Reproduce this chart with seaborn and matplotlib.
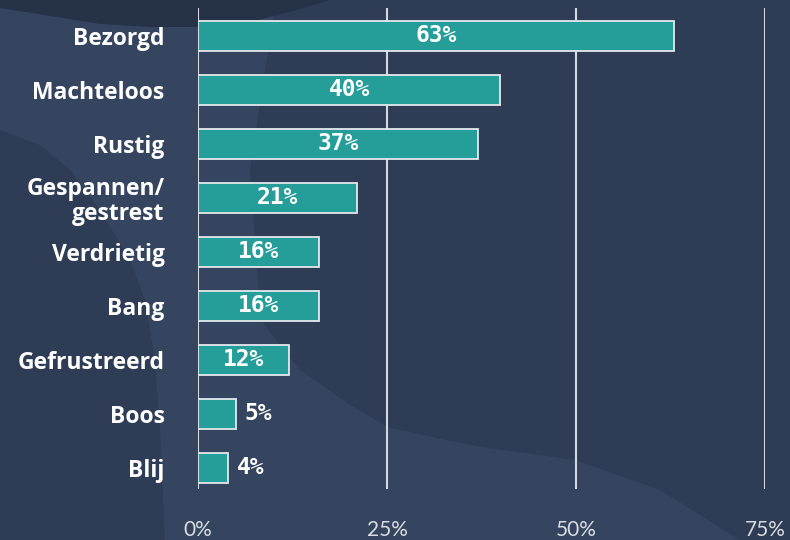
import matplotlib
matplotlib.use("Agg")
import matplotlib.pyplot as plt
import seaborn as sns
import pandas as pd
from matplotlib.patches import Polygon

categories = ["Bezorgd", "Machteloos", "Rustig", "Gespannen/\ngestrest", "Verdrietig",
              "Bang", "Gefrustreerd", "Boos", "Blij"]
values = [63, 40, 37, 21, 16, 16, 12, 5, 4]
x_ticks = [0, 25, 50, 75]
x_tick_labels = ["0%", "25%", "50%", "75%"]

BASE = "#2e3d55"
LIGHT = "#36455f"
DARK = "#263248"
TEAL = "#259e9a"
EDGE = "#e4e8ee"
GRID = "#d3d7de"

sns.set_theme(style="white")
plt.rcParams['font.family'] = ['Open Sans', 'DejaVu Sans']

W, H = 790, 540
fig = plt.figure(figsize=(7.9, 5.4), dpi=100, facecolor=BASE)


def px(pts):
    return [(x / W, 1 - y / H) for x, y in pts]


light_shape = [(0, 0), (290, 0), (275, 10), (265, 70), (250, 170), (257, 270), (262, 320),
               (272, 335), (300, 370), (350, 405), (390, 428), (480, 447), (575, 460),
               (660, 490), (740, 540), (165, 540), (160, 430), (155, 360), (145, 300),
               (130, 260), (100, 210), (70, 170), (40, 145), (0, 130)]
dark_top = [(0, 0), (0, 8), (50, 16), (100, 24), (150, 27), (200, 27), (250, 22),
            (290, 12), (330, 0)]
fig.patches.append(Polygon(px(light_shape), closed=True, transform=fig.transFigure,
                           facecolor=LIGHT, edgecolor="none", zorder=-5))
fig.patches.append(Polygon(px(dark_top), closed=True, transform=fig.transFigure,
                           facecolor=DARK, edgecolor="none", zorder=-4))

ax = fig.add_axes([198 / W, 1 - 489 / H, (765 - 198) / W, (489 - 8) / H])
ax.set_facecolor("none")

df = pd.DataFrame({"cat": categories, "val": values})
sns.barplot(data=df, x="val", y="cat", orient="h", color=TEAL, saturation=1,
            edgecolor=EDGE, linewidth=1.3, width=0.54, ax=ax)

ax.set_xlim(0, 75)
ax.set_ylim(8.389, -0.5185)
ax.set_xticks(x_ticks)
ax.set_xticklabels(x_tick_labels, color="#d9dde3", fontsize=15, family=["Lato", "DejaVu Sans"])
ax.set_yticks(range(len(categories)))
ax.set_yticklabels(categories, fontsize=16.5, fontweight="bold", color="white",
                   family=["Open Sans", "DejaVu Sans"], linespacing=1.05)
ax.xaxis.grid(True, color=GRID, linewidth=1.5)
ax.yaxis.grid(False)
ax.set_axisbelow(True)
ax.tick_params(axis="x", length=0, pad=22)
ax.tick_params(axis="y", length=0, pad=24)
for s in ax.spines.values():
    s.set_visible(False)
ax.set_xlabel("")
ax.set_ylabel("")

for i, v in enumerate(values):
    if v >= 10:
        ax.text(v / 2, i, f"{v}%", ha="center", va="center", color="white",
                family="DejaVu Sans Mono", fontweight="bold", fontsize=16.5)
    else:
        ax.annotate(f"{v}%", xy=(v, i), xytext=(6, 0), textcoords="offset points",
                    ha="left", va="center", color="white",
                    family="DejaVu Sans Mono", fontweight="bold", fontsize=16.5)

fig.savefig("out.png", dpi=100, facecolor=BASE)
